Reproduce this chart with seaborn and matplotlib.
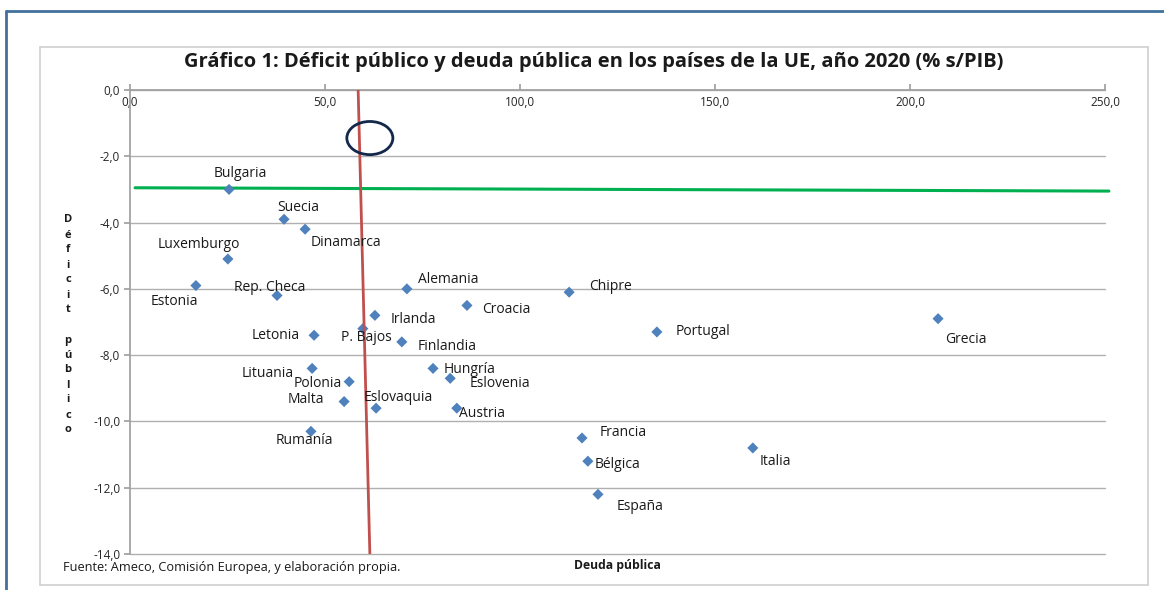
import numpy as np
import pandas as pd
import seaborn as sns
import matplotlib.pyplot as plt
from matplotlib.patches import Ellipse
from matplotlib.lines import Line2D
from matplotlib.ticker import FuncFormatter, MultipleLocator

# Data (deuda pública %PIB, déficit público %PIB), 2020
paises = ["Bulgaria", "Suecia", "Dinamarca", "Luxemburgo", "Estonia", "Rep. Checa",
          "Alemania", "Chipre", "Croacia", "Irlanda", "P. Bajos", "Finlandia",
          "Letonia", "Portugal", "Grecia", "Lituania", "Hungría", "Eslovenia",
          "Polonia", "Malta", "Eslovaquia", "Austria", "Rumanía", "Francia",
          "Bélgica", "España", "Italia"]
deuda = [25.4, 39.5, 44.9, 25.1, 16.9, 37.7,
         71.0, 112.6, 86.4, 62.8, 59.7, 69.7,
         47.2, 135.1, 207.2, 46.7, 77.7, 82.1,
         56.2, 54.9, 63.1, 83.8, 46.4, 115.9,
         117.4, 120.0, 159.7]
deficit = [-3.0, -3.9, -4.2, -5.1, -5.9, -6.2,
           -6.0, -6.1, -6.5, -6.8, -7.2, -7.6,
           -7.4, -7.3, -6.9, -8.4, -8.4, -8.7,
           -8.8, -9.4, -9.6, -9.6, -10.3, -10.5,
           -11.2, -12.2, -10.8]

# reference lines as drawn in the original (slightly tilted)
deuda_ref_x = [58.5, 61.5]
deuda_ref_y = [0.0, -14.0]
deficit_ref_x = [1.3, 251.0]
deficit_ref_y = [-2.95, -3.05]

# label offsets in pixels (dx, dy), text centred on that point
label_offsets = {
    "Bulgaria": (11, 16), "Suecia": (14, 12), "Dinamarca": (41, -13),
    "Luxemburgo": (-29, 15), "Estonia": (-22, -16), "Rep. Checa": (-7, 8),
    "Alemania": (41, 9), "Chipre": (41, 6), "Croacia": (39, -4),
    "Irlanda": (38, -4), "P. Bajos": (4, -9), "Finlandia": (45, -5),
    "Letonia": (-38, 0), "Portugal": (46, 0), "Grecia": (28, -21),
    "Lituania": (-44, -5), "Hungría": (37, -1), "Eslovenia": (50, -5),
    "Polonia": (-31, -2), "Malta": (-38, 2), "Eslovaquia": (22, 11),
    "Austria": (25, -5), "Rumanía": (-7, -9), "Francia": (41, 6),
    "Bélgica": (30, -3), "España": (42, -12), "Italia": (23, -14),
}

df = pd.DataFrame({"pais": paises, "deuda": deuda, "deficit": deficit})

sns.set_theme(style="white")
plt.rcParams["font.family"] = ["Open Sans", "DejaVu Sans"]

W, H = 1164, 590
fig = plt.figure(figsize=(W / 100, H / 100), dpi=100)
ax = fig.add_axes([130 / W, 1 - 554 / H, 975 / W, 464 / H])

for y in np.arange(-14, 0.1, 2):
    ax.axhline(y, color="#b0b0b0", lw=1.0, zorder=0, clip_on=False)

ax.plot(deficit_ref_x, deficit_ref_y, color="#00B050", lw=2.2, zorder=1, clip_on=False)
ax.plot(deuda_ref_x, deuda_ref_y, color="#C0504D", lw=2.0, zorder=3)

sns.scatterplot(data=df, x="deuda", y="deficit", marker="D", s=32,
                color="#4F81BD", edgecolor="none", ax=ax, zorder=2)

for p, x, y in zip(paises, deuda, deficit):
    dx, dy = label_offsets[p]
    ax.annotate(p, (x, y), xytext=(dx, dy), textcoords="offset pixels",
                ha="center", va="center", fontsize=10, color="#1a1a1a")

ax.add_patch(Ellipse((61.5, -1.45), 11.8, 1.0, fill=False,
                     edgecolor="#14284B", lw=2.0, zorder=4, clip_on=False))

ax.set_xlim(0, 250)
ax.set_ylim(-14, 0)
ax.xaxis.set_major_locator(MultipleLocator(50))
ax.yaxis.set_major_locator(MultipleLocator(2))
fmt = FuncFormatter(lambda v, _: f"{v:.1f}".replace(".", ","))
ax.xaxis.set_major_formatter(fmt)
ax.yaxis.set_major_formatter(fmt)

for s in ["top", "right"]:
    ax.spines[s].set_visible(False)
ax.spines["bottom"].set_position(("data", 0))
ax.spines["bottom"].set_color("#a0a0a0")
ax.spines["left"].set_color("#a0a0a0")
ax.tick_params(axis="x", direction="in", length=4, color="#a0a0a0",
               labelsize=8.5, pad=4, bottom=True)
ax.tick_params(axis="y", direction="out", length=4, color="#a0a0a0",
               labelsize=8.5, pad=3, left=True)
ax.set_xlabel("")
ax.set_ylabel("")
# the lowest y label sits a little above its gridline, clear of the footnote
ax.get_yticklabels()[0].set_va("bottom")

fig.text(594 / W, 1 - 62 / H,
         "Gráfico 1: Déficit público y deuda pública en los países de la UE, año 2020 (% s/PIB)",
         ha="center", va="center", fontsize=14.5, fontweight="bold", color="#1a1a1a")
fig.text(68 / W, 1 - 325 / H, "\n".join("Déficit público"), ha="center", va="center",
         fontsize=8, fontweight="bold", linespacing=1.5, color="#1a1a1a")
fig.text(63 / W, 1 - 568 / H, "Fuente: Ameco, Comisión Europea, y elaboración propia.",
         ha="left", va="center", fontsize=9.2, color="#1a1a1a")
fig.text(617 / W, 1 - 566 / H, "Deuda pública", ha="center", va="center",
         fontsize=8.7, fontweight="bold", color="#1a1a1a")

# inner chart frame and outer blue frame
frame = dict(transform=fig.transFigure, lw=1.2, color="#d0d0d0")
fig.add_artist(Line2D([40 / W, 1148 / W], [1 - 47 / H] * 2, **frame))
fig.add_artist(Line2D([40 / W, 1148 / W], [1 - 585 / H] * 2, **frame))
fig.add_artist(Line2D([40 / W] * 2, [1 - 47 / H, 1 - 585 / H], **frame))
fig.add_artist(Line2D([1148 / W] * 2, [1 - 47 / H, 1 - 585 / H], **frame))
blue = dict(transform=fig.transFigure, lw=2.0, color="#41719C")
fig.add_artist(Line2D([6 / W, 1.0], [1 - 11 / H] * 2, **blue))
fig.add_artist(Line2D([6 / W] * 2, [1 - 11 / H, 0.0], **blue))

fig.savefig("out.png", dpi=100)
